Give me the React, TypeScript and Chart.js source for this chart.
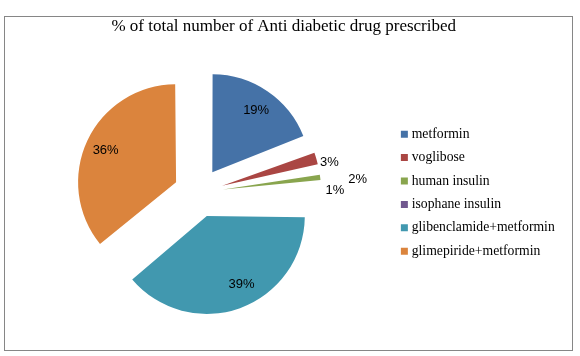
import { useEffect, useRef } from 'react';
import { Chart, registerables } from 'chart.js';

Chart.register(...registerables);

const categories = [
  'metformin',
  'voglibose',
  'human insulin',
  'isophane insulin',
  'glibenclamide+metformin',
  'glimepiride+metformin',
];
const percentages = [19, 3, 2, 1, 39, 36];
const colors = ['#4572A7', '#AA4643', '#89A54E', '#71588F', '#4198AF', '#DB843D'];
const titleText = '% of total number of Anti diabetic drug prescribed';

const RADIUS = 98;
const EXPLODE = 24.7;
const LABEL_DIST = [0.77, 1.12, 1.38, 1.14, 0.78, 0.79];
const LABEL_NUDGE_DEG = [1.3, 3.7, 2.7, 0.8, -7.2, -0.7];

const LEGEND_FONT = 13.7;
const LEGEND_PITCH = 23.4;

const explodeFix = {
  id: 'explodeFix',
  afterDatasetUpdate(chart: any, args: any) {
    const meta = chart.getDatasetMeta(args.index);
    meta.data.forEach((arc: any) => {
      const circ = arc.endAngle - arc.startAngle;
      const fix = 1 - Math.sin(Math.min(Math.PI, circ));
      arc.outerRadius = RADIUS - EXPLODE * fix;
    });
  },
};

const sliceLabels = {
  id: 'sliceLabels',
  afterDatasetsDraw(chart: any) {
    const { ctx } = chart;
    const meta = chart.getDatasetMeta(0);
    ctx.save();
    ctx.font = '13px "Liberation Sans"';
    ctx.fillStyle = '#000';
    ctx.textAlign = 'center';
    ctx.textBaseline = 'middle';
    meta.data.forEach((arc: any, i: number) => {
      const mid = (arc.startAngle + arc.endAngle) / 2;
      const ax = arc.x + Math.cos(mid) * EXPLODE;
      const ay = arc.y + Math.sin(mid) * EXPLODE;
      const a = mid + (LABEL_NUDGE_DEG[i] * Math.PI) / 180;
      const r = RADIUS * LABEL_DIST[i];
      ctx.fillText(percentages[i] + '%', ax + Math.cos(a) * r, ay + Math.sin(a) * r);
    });
    ctx.restore();
  },
};

export default function App() {
  const ref = useRef<HTMLCanvasElement>(null);

  useEffect(() => {
    if (!ref.current) return;
    const chart = new Chart(ref.current, {
      type: 'pie',
      data: {
        labels: categories,
        datasets: [
          {
            data: percentages,
            backgroundColor: colors,
            borderWidth: 0,
            offset: EXPLODE * 4,
            hoverOffset: 0,
            radius: RADIUS,
          } as any,
        ],
      },
      options: {
        responsive: false,
        animation: false,
        events: [],
        layout: { padding: { left: 2.7, right: 15.25, top: 0, bottom: 17.5 } },
        plugins: {
          tooltip: { enabled: false },
          title: {
            display: true,
            text: titleText,
            color: '#000',
            font: { family: '"Liberation Serif"', size: 17, weight: 'normal' },
            padding: { top: 16.5, bottom: 10 },
          },
          legend: {
            position: 'right',
            fullSize: false,
            labels: {
              boxWidth: 1,
              boxHeight: 1,
              padding: LEGEND_PITCH - LEGEND_FONT,
              color: '#000',
              font: { family: '"Liberation Serif"', size: LEGEND_FONT },
              generateLabels: () =>
                categories.map((t, i) => ({
                  text: t,
                  fillStyle: colors[i],
                  strokeStyle: colors[i],
                  lineWidth: 6,
                  lineJoin: 'miter',
                  hidden: false,
                  index: i,
                })),
            },
          },
        },
      } as any,
      plugins: [explodeFix, sliceLabels],
    });
    return () => chart.destroy();
  }, []);

  return (
    <div style={{ position: 'fixed', left: 0, top: 0, width: 580, height: 356, background: '#fff' }}>
      <div
        style={{
          position: 'absolute',
          left: 4,
          top: 16,
          width: 569,
          height: 335,
          border: '1px solid #868686',
          boxSizing: 'border-box',
        }}
      />
      <canvas ref={ref} width={580} height={356} style={{ position: 'absolute', left: 0, top: 0 }} />
    </div>
  );
}
